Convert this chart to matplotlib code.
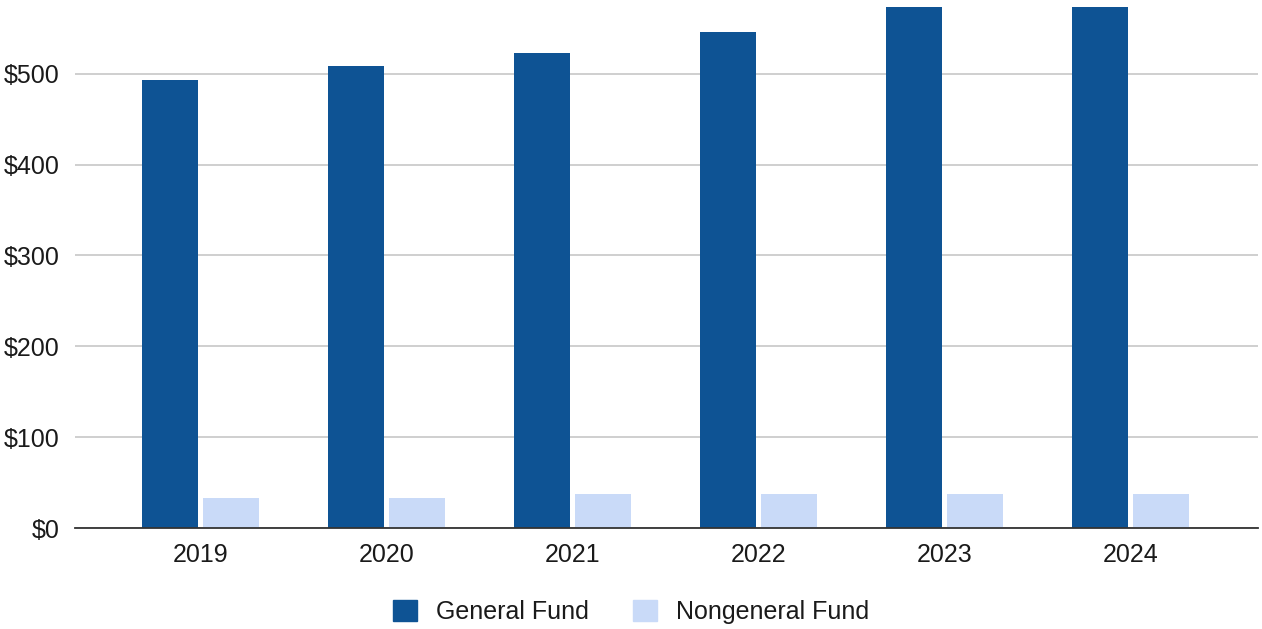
import matplotlib.pyplot as plt
import numpy as np
from matplotlib.patches import Patch

years = ['2019', '2020', '2021', '2022', '2023', '2024']
general_fund = [493, 509, 523, 546, 574, 574]
nongeneral_fund = [33, 33, 37.5, 37.5, 37.5, 37.5]

plt.rcParams['font.family'] = ['Liberation Sans', 'DejaVu Sans']

fig = plt.figure(figsize=(12.62, 6.29), dpi=100)
ax = fig.add_axes([75 / 1262, 101 / 629, 1183 / 1262, 526 / 629])

x = np.arange(len(years))
w = 0.30
ax.bar(x - 0.163, general_fund, w, color='#0e5394', zorder=3, label='General Fund')
ax.bar(x + 0.163, nongeneral_fund, w, color='#c9daf8', zorder=3, label='Nongeneral Fund')

ax.set_xlim(-0.675, 5.685)
ax.set_ylim(0, 579)
ax.set_yticks([0, 100, 200, 300, 400, 500])
ax.set_yticklabels(['$' + str(v) for v in [0, 100, 200, 300, 400, 500]])
ax.set_xticks(x)
ax.set_xticklabels(years)
ax.tick_params(axis='both', length=0, labelsize=18, colors='#1a1a1a')
ax.tick_params(axis='y', pad=11)
ax.tick_params(axis='x', pad=11)

ax.grid(axis='y', color='#cccccc', linewidth=1.3, zorder=0)
for s in ['top', 'right', 'left']:
    ax.spines[s].set_visible(False)
ax.spines['bottom'].set_color('#333333')
ax.spines['bottom'].set_linewidth(1.3)
ax.spines['bottom'].set_zorder(4)

handles = [Patch(color='#0e5394', label='General Fund'),
           Patch(color='#c9daf8', label='Nongeneral Fund')]
fig.legend(handles=handles, loc='center', bbox_to_anchor=(0.5, 1 - 612 / 629),
           ncol=2, frameon=False, fontsize=18, handlelength=0.95, handleheight=0.95,
           handletextpad=0.75, columnspacing=1.8, labelcolor='#1a1a1a')

plt.savefig('out.png', dpi=100)
